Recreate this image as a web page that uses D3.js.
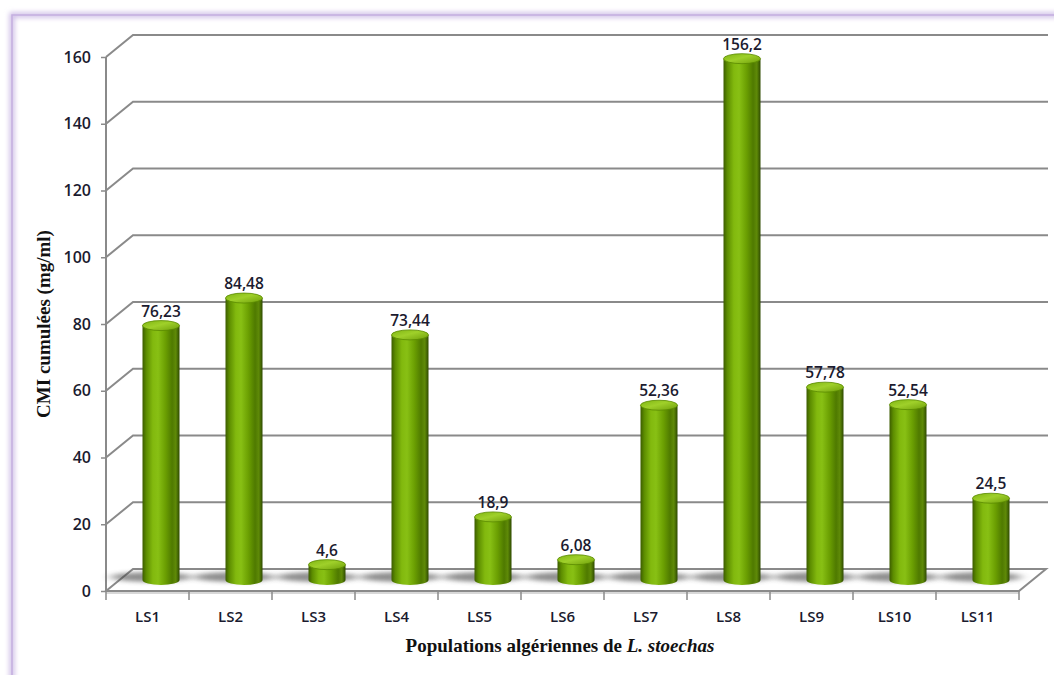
<!DOCTYPE html>
<html><head><meta charset="utf-8">
<script src="https://cdn.jsdelivr.net/npm/d3@7"></script>
<style>body{margin:0;background:#fff;}svg{display:block;}</style>
</head><body>
<svg id="chart" width="1054" height="675"></svg>
<script>
const categories = ["LS1","LS2","LS3","LS4","LS5","LS6","LS7","LS8","LS9","LS10","LS11"];
const values = [76.23, 84.48, 4.6, 73.44, 18.9, 6.08, 52.36, 156.2, 57.78, 52.54, 24.5];
const valueLabels = ["76,23","84,48","4,6","73,44","18,9","6,08","52,36","156,2","57,78","52,54","24,5"];
const yTicks = [0,20,40,60,80,100,120,140,160];
const yTitle = "CMI cumulées (mg/ml)";
const xTitleMain = "Populations algériennes de ";
const xTitleItalic = "L. stoechas";

(function(){
const svg = d3.select("#chart");
const pL = 106, pR = 1019, pT = 57, pB = 591;
const dx = 27, dy = -22;

const x = d3.scaleBand().domain(categories).range([pL, pR]).padding(0);
const y = d3.scaleLinear().domain([0, 160]).range([pB, pT]);

const defs = svg.append("defs");
const fb = defs.append("filter").attr("id","glow").attr("x","-5%").attr("y","-5%").attr("width","110%").attr("height","110%");
fb.append("feGaussianBlur").attr("stdDeviation",2.5);
const sb = defs.append("filter").attr("id","shblur").attr("x","-50%").attr("y","-200%").attr("width","200%").attr("height","500%");
sb.append("feGaussianBlur").attr("stdDeviation","6 2");

const g1 = defs.append("linearGradient").attr("id","cyl").attr("x1","0").attr("x2","1").attr("y1","0").attr("y2","0");
[[0,"#3c5c00"],[0.1,"#5c8c00"],[0.28,"#82b90e"],[0.42,"#88c014"],[0.62,"#6b9f02"],[0.8,"#4f7a00"],[0.9,"#5f8a08"],[1,"#2e4a00"]]
  .forEach(([o,c]) => g1.append("stop").attr("offset",o).attr("stop-color",c));
const g2 = defs.append("linearGradient").attr("id","cap").attr("x1","0").attr("x2","1").attr("y1","0").attr("y2","1");
[[0,"#7fb512"],[0.45,"#9fd02a"],[1,"#6f9f0a"]]
  .forEach(([o,c]) => g2.append("stop").attr("offset",o).attr("stop-color",c));

// frame
svg.append("rect").attr("x",12).attr("y",15).attr("width",1080).attr("height",700)
  .attr("fill","none").attr("stroke","#cdbbe6").attr("stroke-width",5).attr("filter","url(#glow)");
svg.append("rect").attr("x",12).attr("y",15).attr("width",1080).attr("height",700)
  .attr("fill","none").attr("stroke","#c4afe0").attr("stroke-width",1.5);

const gridColor = "#8a8a8a";
yTicks.filter(d => d > 0).forEach(d => {
  const yy = y(d);
  svg.append("path").attr("d", `M${pL},${yy} L${pL+dx},${yy+dy} L${pR+dx+2},${yy+dy}`)
    .attr("fill","none").attr("stroke",gridColor).attr("stroke-width",2);
});

// floor
svg.append("path")
  .attr("d", `M${pL},${pB} L${pL+dx},${pB+dy} L${pR+dx},${pB+dy} L${pR},${pB} Z`)
  .attr("fill","#fff").attr("stroke",gridColor).attr("stroke-width",2);
svg.append("line").attr("x1",pL).attr("x2",pR).attr("y1",pB+2).attr("y2",pB+2)
  .attr("stroke","#d8d8d8").attr("stroke-width",2);

const txtCol = "#1b1b2f";
// y axis
const yAxis = svg.append("g").attr("transform",`translate(${pL},0)`)
  .call(d3.axisLeft(y).tickValues(yTicks).tickSize(5).tickPadding(10).tickFormat(d3.format("d")));
yAxis.select(".domain").attr("stroke",gridColor).attr("stroke-width",2).attr("d",`M0,${pT}V${pB}`);
yAxis.selectAll(".tick line").attr("stroke",gridColor).attr("stroke-width",1.5);
yAxis.selectAll(".tick text").attr("font-family","'Open Sans'").attr("font-weight",600).attr("font-size",16).attr("fill",txtCol);

// x axis
const xAxis = svg.append("g").attr("transform",`translate(0,${pB})`)
  .call(d3.axisBottom(x).tickSize(0).tickPadding(20));
xAxis.select(".domain").remove();
xAxis.selectAll(".tick text").attr("font-family","'Open Sans'").attr("font-weight",600).attr("font-size",15).attr("fill",txtCol);
const edges = categories.map(c => x(c)).concat([pR]);
svg.append("g").selectAll("line").data(edges).join("line")
  .attr("x1",d=>d).attr("x2",d=>d).attr("y1",pB).attr("y2",pB+9)
  .attr("stroke",gridColor).attr("stroke-width",1.5);

// bars
const bw = 37, ry = 5;
const bars = svg.append("g").selectAll("g").data(categories.map((c,i)=>({c, v:values[i], l:valueLabels[i]}))).join("g");
const cx = d => x(d.c) + x.bandwidth()/2 + dx/2;
const yb = pB + dy/2;
const yt = d => y(d.v) + dy/2;
bars.append("ellipse").attr("cx", d => cx(d) - 10).attr("cy", yb - 3).attr("rx", 40).attr("ry", 5)
  .attr("fill","#444").attr("opacity",0.6).attr("filter","url(#shblur)");
bars.append("path")
  .attr("d", d => `M${cx(d)-bw/2},${yt(d)} L${cx(d)-bw/2},${yb} A${bw/2},${ry} 0 0 0 ${cx(d)+bw/2},${yb} L${cx(d)+bw/2},${yt(d)} Z`)
  .attr("fill","url(#cyl)");
bars.append("ellipse").attr("cx", cx).attr("cy", yt).attr("rx", bw/2).attr("ry", ry)
  .attr("fill","url(#cap)").attr("stroke","#5a8a00").attr("stroke-width",0.8);
bars.append("text").attr("x", cx).attr("y", d => yt(d) - 9).attr("text-anchor","middle")
  .attr("font-family","'Open Sans'").attr("font-weight",600).attr("font-size",15.5).attr("fill",txtCol).text(d => d.l);

// titles
svg.append("text").attr("transform","translate(50,324) rotate(-90)").attr("text-anchor","middle")
  .attr("font-family","'Liberation Serif'").attr("font-weight","bold").attr("font-size",19).attr("fill","#111")
  .text(yTitle);
const xt = svg.append("text").attr("x",560).attr("y",652).attr("text-anchor","middle")
  .attr("font-family","'Liberation Serif'").attr("font-weight","bold").attr("font-size",19).attr("fill","#111");
xt.append("tspan").text(xTitleMain);
xt.append("tspan").attr("font-style","italic").text(xTitleItalic);
})();
</script>
</body></html>
